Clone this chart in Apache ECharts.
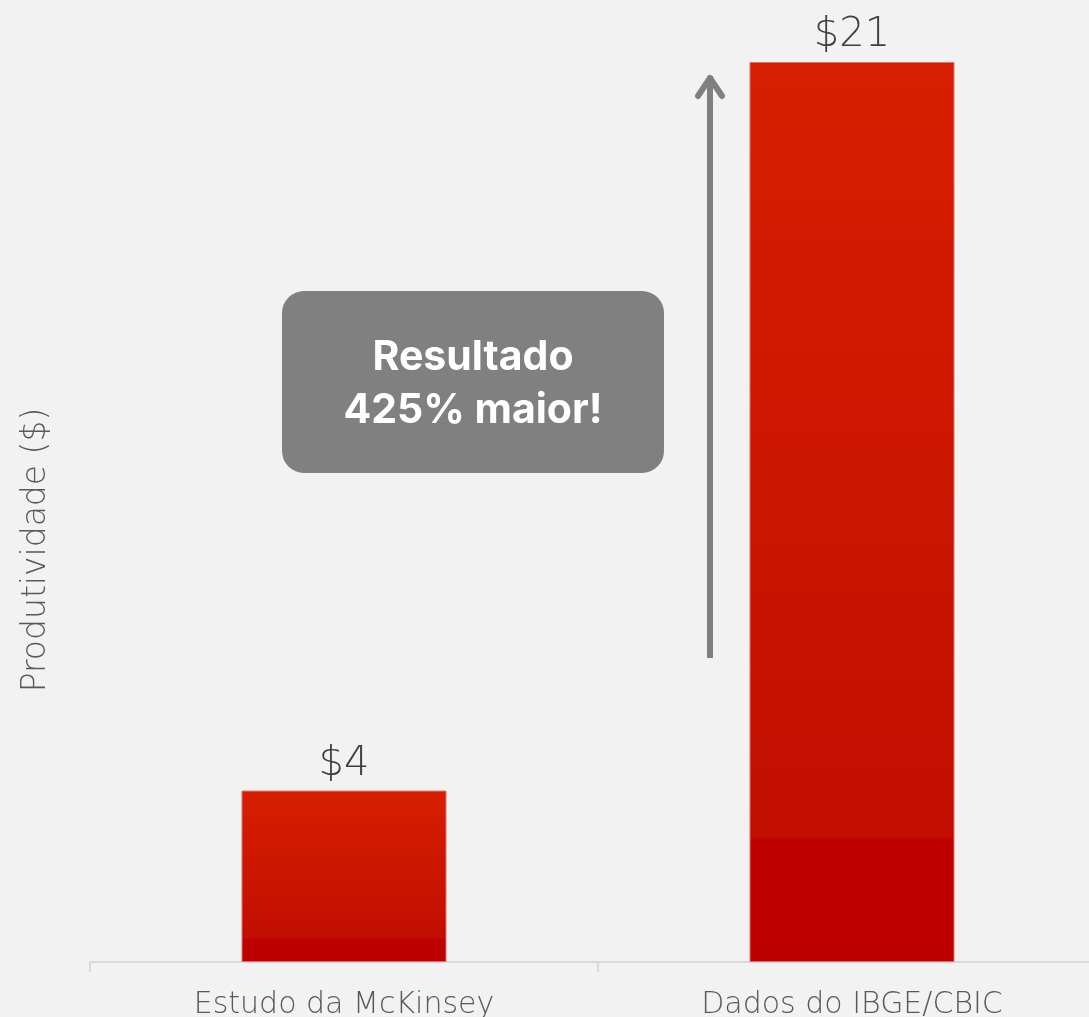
<!DOCTYPE html>
<html>
<head>
<meta charset="utf-8">
<script src="https://cdn.jsdelivr.net/npm/echarts@6/dist/echarts.min.js"></script>
<style>
  html, body { margin: 0; padding: 0; background: #f2f2f2; }
  #main { width: 1089px; height: 1017px; }
</style>
</head>
<body>
<div id="main"></div>
<script>
// dados do grafico
var categories = ['Estudo da McKinsey', 'Dados do IBGE/CBIC'];
var values = [4, 21];
var valueLabels = ['$4', '$21'];
var axisTitle = 'Produtividade ($)';
var noteText = 'Resultado\n425% maior!';

var lightFont = 'DejaVu Sans';

var chart = echarts.init(document.getElementById('main'), null, { renderer: 'canvas' });

var barColor = new echarts.graphic.LinearGradient(0, 0, 0, 1, [
  { offset: 0, color: '#d61f00' },
  { offset: 0.86, color: '#c20e00' },
  { offset: 0.865, color: '#bf0000' },
  { offset: 1, color: '#bf0000' }
]);

var option = {
  backgroundColor: '#f2f2f2',
  animation: false,
  grid: { left: 90, width: 1016, top: 62, bottom: 55, containLabel: false, outerBoundsMode: 'none' },
  xAxis: {
    type: 'category',
    data: categories,
    axisLine: { lineStyle: { color: '#d9d9d9', width: 2 } },
    axisTick: { show: true, length: 10, lineStyle: { color: '#d9d9d9', width: 2 } },
    axisLabel: {
      color: '#595959',
      fontFamily: lightFont,
      fontWeight: 200,
      fontSize: 30,
      margin: 28
    }
  },
  yAxis: {
    type: 'value',
    min: 0,
    max: 21,
    show: false
  },
  series: [{
    type: 'bar',
    data: values,
    barWidth: 205,
    itemStyle: { color: barColor, borderColor: '#e07070', borderWidth: 1 },
    label: {
      show: true,
      position: 'top',
      distance: 6,
      formatter: function (p) { return valueLabels[p.dataIndex]; },
      color: '#404040',
      fontFamily: lightFont,
      fontWeight: 200,
      fontSize: 40
    }
  }],
  graphic: [
    // titulo do eixo Y
    {
      type: 'text',
      x: 36, y: 550,
      rotation: Math.PI / 2,
      style: {
        text: axisTitle,
        fill: '#595959',
        font: '200 33px "DejaVu Sans"',
        textAlign: 'center',
        textVerticalAlign: 'middle'
      }
    },
    // seta
    {
      type: 'polyline',
      shape: { points: [[710, 658], [710, 76]] },
      style: { stroke: '#808080', lineWidth: 6 }
    },
    {
      type: 'polyline',
      shape: { points: [[698, 96], [710, 78], [722, 96]] },
      style: { stroke: '#808080', lineWidth: 6, lineCap: 'round', lineJoin: 'round', fill: null }
    },
    // caixa de destaque
    {
      type: 'rect',
      shape: { x: 282, y: 291, width: 382, height: 182, r: 22 },
      style: { fill: '#808080' }
    },
    {
      type: 'text',
      x: 473, y: 384,
      style: {
        text: noteText,
        fill: '#ffffff',
        font: '700 41px Inter',
        lineHeight: 53,
        textAlign: 'center',
        textVerticalAlign: 'middle'
      }
    }
  ]
};

chart.setOption(option);
</script>
</body>
</html>
